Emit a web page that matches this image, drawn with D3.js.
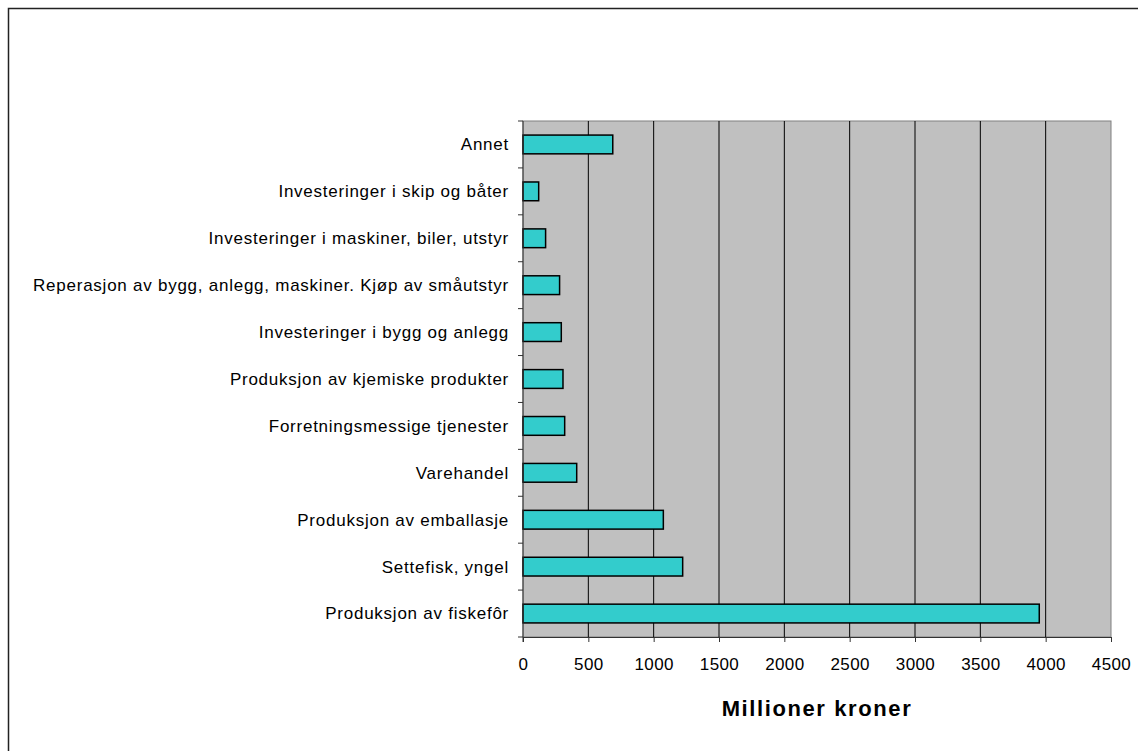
<!DOCTYPE html>
<html>
<head>
<meta charset="utf-8">
<script src="https://cdn.jsdelivr.net/npm/d3@7"></script>
<style>
  body { margin: 0; background: white; }
  svg { display: block; font-family: "Liberation Sans", Arial, sans-serif; }
</style>
</head>
<body>
<svg id="chart" width="1138" height="751"></svg>
<script>
const categories = [
  "Annet",
  "Investeringer i skip og båter",
  "Investeringer i maskiner, biler, utstyr",
  "Reperasjon av bygg, anlegg, maskiner. Kjøp av småutstyr",
  "Investeringer i bygg og anlegg",
  "Produksjon av kjemiske produkter",
  "Forretningsmessige tjenester",
  "Varehandel",
  "Produksjon av emballasje",
  "Settefisk, yngel",
  "Produksjon av fiskefôr"
];
const values = [687, 120, 173, 280, 293, 306, 319, 411, 1074, 1222, 3951];
const xTicks = [0, 500, 1000, 1500, 2000, 2500, 3000, 3500, 4000, 4500];
const axisTitle = "Millioner kroner";

const svg = d3.select("#chart");
const margin = { top: 121, left: 523, right: 27, bottom: 114 };
const width = 1138, height = 751;
const plotWidth = width - margin.left - margin.right;
const plotHeight = height - margin.top - margin.bottom;

// outer frame, runs off the right and bottom edge
svg.append("rect")
  .attr("x", 8.5).attr("y", 8.5)
  .attr("width", 1200).attr("height", 800)
  .attr("fill", "white")
  .attr("stroke", "#222").attr("stroke-width", 1.5);

const x = d3.scaleLinear([0, 4500], [0, plotWidth]);
const y = d3.scaleBand(categories, [0, plotHeight]).paddingInner(0.6).paddingOuter(0.3);
const yOuter = d3.scaleBand(categories, [0, plotHeight]);

const g = svg.append("g").attr("transform", `translate(${margin.left},${margin.top})`);

g.append("rect")
  .attr("width", plotWidth).attr("height", plotHeight)
  .attr("fill", "#c0c0c0")
  .attr("stroke", "#808080");

g.append("g")
  .selectAll("line")
  .data(xTicks.slice(1, -1))
  .join("line")
  .attr("x1", d => x(d)).attr("x2", d => x(d))
  .attr("y1", 0).attr("y2", plotHeight)
  .attr("stroke", "black");

g.append("g")
  .selectAll("rect")
  .data(categories)
  .join("rect")
  .attr("x", 0)
  .attr("y", d => y(d))
  .attr("width", (d, i) => x(values[i]))
  .attr("height", y.bandwidth())
  .attr("fill", "#33cccc")
  .attr("stroke", "black")
  .attr("stroke-width", 1.5);

// x axis
const xAxis = g.append("g")
  .attr("transform", `translate(0,${plotHeight})`)
  .call(d3.axisBottom(x).tickValues(xTicks).tickFormat(d3.format("d"))
    .tickSize(5).tickSizeOuter(0).tickPadding(16));
xAxis.select(".domain").attr("stroke", "#333");
xAxis.selectAll(".tick line").attr("stroke", "#333");
xAxis.selectAll("text").attr("font-size", 17).attr("fill", "black")
  .attr("letter-spacing", 0.4)
  .attr("font-family", "Liberation Sans, Arial, sans-serif");

// y axis: ticks at band boundaries
const yAxis = g.append("g");
yAxis.append("line")
  .attr("x1", 0).attr("x2", 0).attr("y1", 0).attr("y2", plotHeight + 5)
  .attr("stroke", "#333");
yAxis.selectAll(".bt")
  .data(categories)
  .join("line")
  .attr("class", "bt")
  .attr("x1", -5).attr("x2", 0)
  .attr("y1", d => yOuter(d)).attr("y2", d => yOuter(d))
  .attr("stroke", "#333");
yAxis.append("line")
  .attr("x1", -5).attr("x2", 0).attr("y1", plotHeight).attr("y2", plotHeight)
  .attr("stroke", "#333");
yAxis.selectAll("text")
  .data(categories)
  .join("text")
  .attr("x", -14)
  .attr("y", d => y(d) + y.bandwidth() / 2)
  .attr("dy", "0.35em")
  .attr("text-anchor", "end")
  .attr("font-size", 17)
  .attr("letter-spacing", 0.75)
  .text(d => d);

svg.append("text")
  .attr("x", margin.left + x(2250))
  .attr("y", 716)
  .attr("text-anchor", "middle")
  .attr("font-size", 22)
  .attr("font-weight", "bold")
  .attr("letter-spacing", 1.6)
  .text(axisTitle);
</script>
</body>
</html>
